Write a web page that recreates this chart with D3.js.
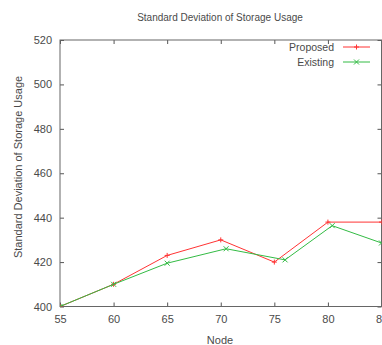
<!DOCTYPE html>
<html>
<head>
<meta charset="utf-8">
<script src="https://cdn.jsdelivr.net/npm/d3@7"></script>
<style>
  body { margin: 0; background: #fff; }
  text { font-family: "Liberation Sans", Arial, sans-serif; fill: #4a4a4a; }
</style>
</head>
<body>
<div class="chart"></div>
<script>

// data
var xTicks = [55, 60, 65, 70, 75, 80, 85];
var yTicks = [400, 420, 440, 460, 480, 500, 520];
var proposedX = [55, 60, 65, 70, 75, 80, 85];
var proposedY = [400, 410, 423, 430, 420, 438, 438];
var existingX = [55, 60, 65, 70.5, 76, 80.4, 85];
var existingY = [400, 410, 419.5, 426, 421, 436.4, 428.6];
var seriesNames = ["Proposed", "Existing"];

// initialize properties
var width = 382,
    height = 345;
var plotLeft = 60, plotRight = 381.5, plotTop = 40, plotBottom = 306.5;

var svg = d3.select(".chart")
            .append("svg")
            .attr("width", width)
            .attr("height", height);

var x = d3.scaleLinear().domain([55, 85]).range([plotLeft, plotRight]);
var y = d3.scaleLinear().domain([400, 520]).range([plotBottom, plotTop]);

// clip for the lines
svg.append("clipPath").attr("id", "plot-clip")
   .append("rect")
   .attr("x", plotLeft).attr("y", plotTop)
   .attr("width", plotRight - plotLeft).attr("height", plotBottom - plotTop);

// axes, ticks inward and mirrored
var tickLen = 4;
svg.append("g")
   .attr("transform", "translate(0," + plotBottom + ")")
   .call(d3.axisBottom(x).tickValues(xTicks).tickSize(-tickLen).tickPadding(9))
   .call(function(g) { g.select(".domain").remove(); });
svg.append("g")
   .attr("transform", "translate(0," + plotTop + ")")
   .call(d3.axisTop(x).tickValues(xTicks).tickSize(-tickLen).tickFormat(""))
   .call(function(g) { g.select(".domain").remove(); });
svg.append("g")
   .attr("transform", "translate(" + plotLeft + ",0)")
   .call(d3.axisLeft(y).tickValues(yTicks).tickSize(-tickLen).tickPadding(8))
   .call(function(g) { g.select(".domain").remove(); });
svg.append("g")
   .attr("transform", "translate(" + plotRight + ",0)")
   .call(d3.axisRight(y).tickValues(yTicks).tickSize(-tickLen).tickFormat(""))
   .call(function(g) { g.select(".domain").remove(); });

svg.selectAll(".tick line").attr("stroke", "#555");
svg.selectAll(".tick text")
   .attr("font-size", 11)
   .style("fill", "#4a4a4a")
   .style("font-family", "Liberation Sans, Arial, sans-serif");

// plot border
svg.append("rect")
   .attr("x", plotLeft).attr("y", plotTop)
   .attr("width", plotRight - plotLeft).attr("height", plotBottom - plotTop)
   .attr("fill", "none")
   .attr("stroke", "#666")
   .attr("stroke-width", 1);

// title and axis labels
svg.append("text")
   .attr("x", 220).attr("y", 21)
   .attr("text-anchor", "middle")
   .attr("font-size", 10)
   .text("Standard Deviation of Storage Usage");
svg.append("text")
   .attr("x", 220).attr("y", 344)
   .attr("text-anchor", "middle")
   .attr("font-size", 11)
   .text("Node");
svg.append("text")
   .attr("transform", "translate(22,167) rotate(-90)")
   .attr("text-anchor", "middle")
   .attr("font-size", 11)
   .text("Standard Deviation of Storage Usage");

var series = [
    { name: seriesNames[0], xs: proposedX, ys: proposedY, color: "#ff3333", mark: "plus" },
    { name: seriesNames[1], xs: existingX, ys: existingY, color: "#33bb44", mark: "cross" }
];

var line = d3.line()
    .x(function(d) { return x(d[0]); })
    .y(function(d) { return y(d[1]); });

function drawMark(g, px, py, type, color) {
    var s = 2.5;
    var p = type == "plus"
        ? "M" + (px - s) + "," + py + "H" + (px + s) + "M" + px + "," + (py - s) + "V" + (py + s)
        : "M" + (px - s) + "," + (py - s) + "L" + (px + s) + "," + (py + s) +
          "M" + (px - s) + "," + (py + s) + "L" + (px + s) + "," + (py - s);
    g.append("path").attr("d", p).attr("stroke", color).attr("stroke-width", 1).attr("fill", "none");
}

var plot = svg.append("g").attr("clip-path", "url(#plot-clip)");

series.forEach(function(s, i) {
    var pts = s.xs.map(function(v, j) { return [v, s.ys[j]]; });
    plot.append("path")
        .datum(pts)
        .attr("d", line)
        .attr("fill", "none")
        .attr("stroke", s.color)
        .attr("stroke-width", 1);
    pts.forEach(function(p) { drawMark(plot, x(p[0]), y(p[1]), s.mark, s.color); });

    // legend
    var ly = 47 + i * 15;
    svg.append("text")
       .attr("x", 334).attr("y", ly + 4)
       .attr("text-anchor", "end")
       .attr("font-size", 10.5)
       .text(s.name);
    svg.append("line")
       .attr("x1", 343).attr("x2", 370)
       .attr("y1", ly).attr("y2", ly)
       .attr("stroke", s.color).attr("stroke-width", 1);
    drawMark(svg, 356.5, ly, s.mark, s.color);
});
</script>
</body>
</html>
